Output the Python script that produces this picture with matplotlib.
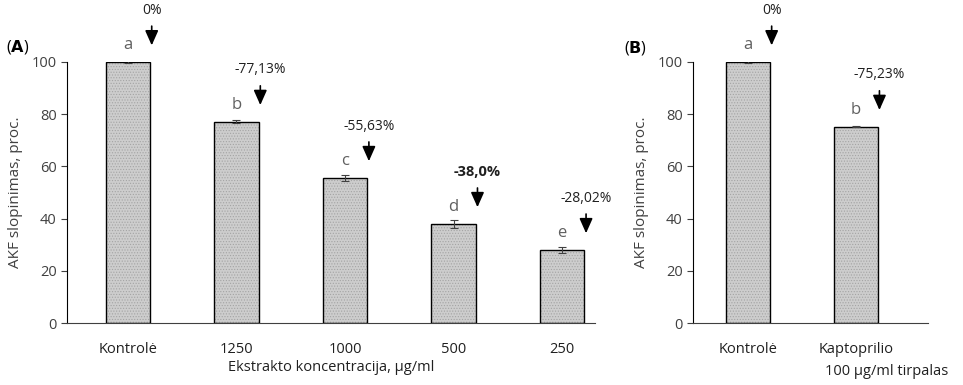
import matplotlib
matplotlib.use("Agg")
import matplotlib.pyplot as plt

plt.rcParams['font.family'] = ['Open Sans', 'DejaVu Sans']
plt.rcParams['hatch.linewidth'] = 0.5

# Duomenys
kategorijos_a = ["Kontrolė", "1250", "1000", "500", "250"]
reiksmes_a = [100.0, 77.13, 55.63, 38.0, 28.02]
klaidos_a = [0.5, 0.6, 1.2, 1.5, 1.2]
raides_a = ["a", "b", "c", "d", "e"]
procentai_a = ["0%", "-77,13%", "-55,63%", "-38,0%", "-28,02%"]

kategorijos_b = ["Kontrolė", "Kaptoprilio"]
reiksmes_b = [100.0, 75.23]
klaidos_b = [0.4, 0.3]
raides_b = ["a", "b"]
procentai_b = ["0%", "-75,23%"]

teksto_spalva = "#404040"
raidziu_spalva = "#606060"


def piesti(ax, kategorijos, reiksmes, klaidos, raides, procentai, paryskinti=None):
    x = list(range(len(kategorijos)))
    # uzpildas su taskeliais
    ax.bar(x, reiksmes, width=0.41, color="#cdcdcd", edgecolor="#a4a4a4",
           hatch="......", linewidth=0, zorder=2)
    # juodi kontūrai
    ax.bar(x, reiksmes, width=0.41, fill=False, edgecolor="black",
           linewidth=1.0, zorder=3)
    ax.errorbar(x, reiksmes, yerr=klaidos, fmt="none", ecolor="#404040",
                elinewidth=0.8, capsize=3, capthick=0.8, zorder=4)
    for i, v in enumerate(reiksmes):
        ax.text(i, v + 6.5, raides[i], ha="center", va="center",
                fontsize=12, color=raidziu_spalva)
        ax.annotate("", xy=(i + 0.22, v + 5.3), xytext=(i + 0.22, v + 14.8),
                    arrowprops=dict(arrowstyle="-|>,head_width=0.4,head_length=0.9",
                                    color="black", lw=1.2),
                    annotation_clip=False)
        if paryskinti == i:
            ax.text(i + 0.22, v + 19.8, procentai[i], ha="center", va="center",
                    fontsize=10.5, fontweight="bold", color="#202020")
        else:
            ax.text(i + 0.22, v + 19.8, procentai[i], ha="center", va="center",
                    fontsize=10, color="#202020")
    ax.set_xticks(x)
    ax.set_xticklabels(kategorijos, fontsize=10.5, color="#202020")
    ax.set_ylim(0, 100)
    ax.set_yticks(range(0, 101, 20))
    ax.tick_params(axis="y", labelsize=10.5, labelcolor=teksto_spalva,
                   length=4, width=0.8, color="#404040")
    ax.tick_params(axis="x", length=0, pad=14)
    ax.spines["top"].set_visible(False)
    ax.spines["right"].set_visible(False)
    ax.spines["left"].set_color("black")
    ax.spines["left"].set_linewidth(0.8)
    ax.spines["bottom"].set_color("#404040")
    ax.spines["bottom"].set_linewidth(0.8)
    ax.set_ylabel("AKF slopinimas, proc.", fontsize=11, color=teksto_spalva)


fig = plt.figure(figsize=(9.63, 3.85), dpi=100)
ax_a = fig.add_axes([0.0696, 0.161, 0.548, 0.678])
ax_b = fig.add_axes([0.7196, 0.161, 0.244, 0.678])

piesti(ax_a, kategorijos_a, reiksmes_a, klaidos_a, raides_a, procentai_a, paryskinti=3)
ax_a.set_xlim(-0.56, 4.3)
ax_a.set_xlabel("Ekstrakto koncentracija, µg/ml", fontsize=10.5, color="#202020", labelpad=2)
ax_a.yaxis.labelpad = 6

piesti(ax_b, kategorijos_b, reiksmes_b, klaidos_b, raides_b, procentai_b)
ax_b.set_xlim(-0.51, 1.67)
ax_b.yaxis.labelpad = 6
fig.text(0.921, 0.034, "100 µg/ml tirpalas", ha="center", va="center",
         fontsize=10.5, color="#202020")

# panelių žymės
fig.text(0.006, 0.878, r"($\bf{A}$)", fontsize=11.5, ha="left", va="center")
fig.text(0.648, 0.876, r"($\bf{B}$)", fontsize=11.5, ha="left", va="center")

fig.savefig("out.png", dpi=100)
